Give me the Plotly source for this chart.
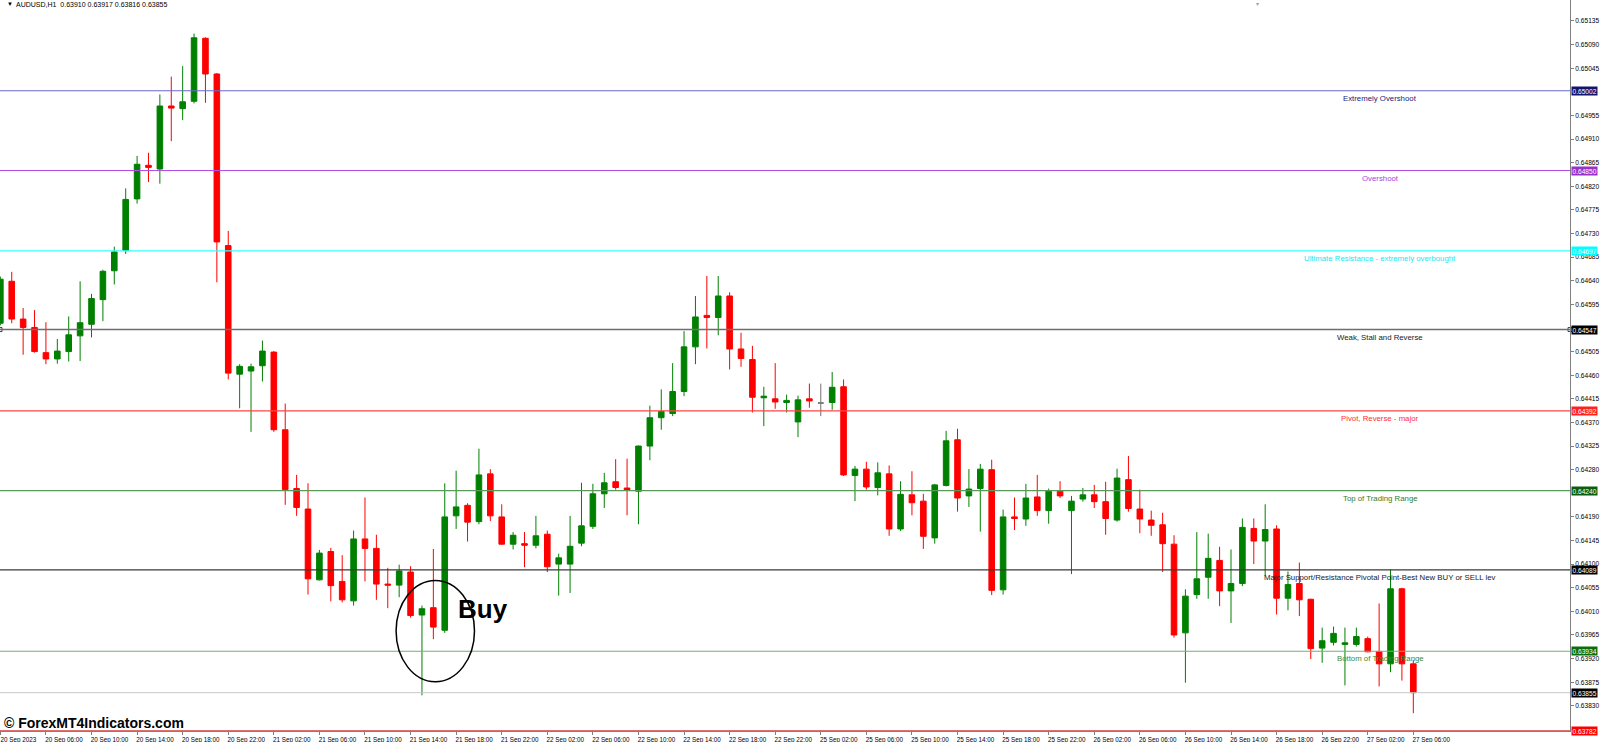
import plotly.graph_objects as go

symbol_info = "AUDUSD,H1\u00a0\u00a00.63910 0.63917 0.63816 0.63855"

opens = [0.64559, 0.64639, 0.64567, 0.64551, 0.64503, 0.64491, 0.64505, 0.64535, 0.64557, 0.64604,
         0.64659, 0.64698, 0.64796, 0.64860, 0.64853, 0.64973, 0.64968, 0.64982, 0.65102, 0.65034,
         0.64707, 0.64462, 0.64468, 0.64478, 0.64504, 0.64356, 0.64244, 0.64205, 0.64070, 0.64124,
         0.64067, 0.64030, 0.64148, 0.64130, 0.64062, 0.64060, 0.64085, 0.64003, 0.64017, 0.63974,
         0.64192, 0.64212, 0.64181, 0.64272, 0.64190, 0.64138, 0.64139, 0.64136, 0.64157, 0.64100,
         0.64100, 0.64140, 0.64172, 0.64234, 0.64257, 0.64245, 0.64239, 0.64325, 0.64379, 0.64387,
         0.64429, 0.64514, 0.64574, 0.64570, 0.64611, 0.64510, 0.64490, 0.64417, 0.64415, 0.64408,
         0.64371, 0.64415, 0.64407, 0.64408, 0.64438, 0.64269, 0.64281, 0.64246, 0.64272, 0.64167,
         0.64232, 0.64220, 0.64150, 0.64250, 0.64337, 0.64230, 0.64244, 0.64280, 0.64051, 0.64190,
         0.64186, 0.64228, 0.64202, 0.64239, 0.64202, 0.64224, 0.64232, 0.64219, 0.64184, 0.64261,
         0.64205, 0.64184, 0.64175, 0.64138, 0.63969, 0.64042, 0.64075, 0.64107, 0.64049, 0.64063,
         0.64168, 0.64144, 0.64167, 0.64035, 0.64063, 0.64033, 0.63940, 0.63951, 0.63947, 0.63947,
         0.63958, 0.63933, 0.63910, 0.64053, 0.63910]
highs = [0.64648, 0.64657, 0.64588, 0.64584, 0.64561, 0.64529, 0.64572, 0.64639, 0.64615, 0.64661,
         0.64705, 0.64816, 0.64878, 0.64884, 0.64995, 0.65029, 0.65049, 0.65111, 0.65104, 0.65036,
         0.64735, 0.64481, 0.64482, 0.64526, 0.64506, 0.64406, 0.64270, 0.64254, 0.64127, 0.64131,
         0.64117, 0.64164, 0.64227, 0.64156, 0.64093, 0.64099, 0.64096, 0.64021, 0.64129, 0.64254,
         0.64278, 0.64216, 0.64320, 0.64281, 0.64214, 0.64161, 0.64161, 0.64192, 0.64164, 0.64120,
         0.64192, 0.64255, 0.64253, 0.64274, 0.64300, 0.64301, 0.64326, 0.64402, 0.64433, 0.64483,
         0.64544, 0.64611, 0.64649, 0.64649, 0.64618, 0.64541, 0.64516, 0.64438, 0.64483, 0.64423,
         0.64421, 0.64444, 0.64444, 0.64466, 0.64452, 0.64287, 0.64295, 0.64294, 0.64288, 0.64258,
         0.64277, 0.64234, 0.64253, 0.64354, 0.64358, 0.64281, 0.64291, 0.64299, 0.64204, 0.64227,
         0.64253, 0.64270, 0.64244, 0.64258, 0.64230, 0.64245, 0.64251, 0.64257, 0.64282, 0.64306,
         0.64242, 0.64202, 0.64198, 0.64155, 0.64052, 0.64161, 0.64158, 0.64133, 0.64128, 0.64187,
         0.64187, 0.64214, 0.64174, 0.64086, 0.64103, 0.64034, 0.63979, 0.63981, 0.63979, 0.63979,
         0.63962, 0.64025, 0.64090, 0.64055, 0.63917]
lows = [0.64555, 0.64559, 0.64499, 0.64503, 0.64481, 0.64482, 0.64486, 0.64487, 0.64532, 0.64563,
        0.64633, 0.64691, 0.64787, 0.64828, 0.64825, 0.64906, 0.64946, 0.64978, 0.64979, 0.64637,
        0.64452, 0.64397, 0.64352, 0.64448, 0.64352, 0.64213, 0.64192, 0.64042, 0.64069, 0.64029,
        0.64027, 0.64021, 0.64067, 0.64032, 0.64016, 0.64037, 0.63998, 0.63850, 0.63957, 0.63969,
        0.64167, 0.64143, 0.64176, 0.64182, 0.64137, 0.64128, 0.64094, 0.64130, 0.64085, 0.64040,
        0.64045, 0.64134, 0.64167, 0.64207, 0.64242, 0.64193, 0.64176, 0.64298, 0.64356, 0.64382,
        0.64420, 0.64481, 0.64511, 0.64536, 0.64471, 0.64476, 0.64389, 0.64363, 0.64396, 0.64389,
        0.64342, 0.64398, 0.64382, 0.64394, 0.64268, 0.64220, 0.64242, 0.64231, 0.64154, 0.64163,
        0.64193, 0.64129, 0.64139, 0.64248, 0.64200, 0.64209, 0.64162, 0.64041, 0.64042, 0.64165,
        0.64173, 0.64192, 0.64177, 0.64226, 0.64081, 0.64219, 0.64207, 0.64156, 0.64181, 0.64200,
        0.64159, 0.64154, 0.64085, 0.63960, 0.63874, 0.64034, 0.64034, 0.64020, 0.63988, 0.64058,
        0.64100, 0.64077, 0.64004, 0.64012, 0.64001, 0.63919, 0.63912, 0.63945, 0.63869, 0.63943,
        0.63932, 0.63867, 0.63894, 0.63878, 0.63816]
closes = [0.64643, 0.64567, 0.64551, 0.64505, 0.64491, 0.64506, 0.64537, 0.64560, 0.64606, 0.64658,
          0.64695, 0.64795, 0.64862, 0.64856, 0.64973, 0.64969, 0.64981, 0.65103, 0.65034, 0.64714,
          0.64464, 0.64477, 0.64476, 0.64506, 0.64356, 0.64242, 0.64208, 0.64072, 0.64121, 0.64059,
          0.64032, 0.64148, 0.64130, 0.64062, 0.64060, 0.64087, 0.64002, 0.64015, 0.63980, 0.64190,
          0.64209, 0.64180, 0.64270, 0.64192, 0.64138, 0.64155, 0.64136, 0.64154, 0.64095, 0.64112,
          0.64134, 0.64173, 0.64234, 0.64255, 0.64246, 0.64241, 0.64325, 0.64379, 0.64391, 0.64429,
          0.64514, 0.64571, 0.64570, 0.64611, 0.64510, 0.64492, 0.64418, 0.64420, 0.64409, 0.64412,
          0.64413, 0.64411, 0.64407, 0.64437, 0.64270, 0.64281, 0.64247, 0.64274, 0.64167, 0.64233,
          0.64217, 0.64153, 0.64251, 0.64335, 0.64226, 0.64243, 0.64281, 0.64050, 0.64190, 0.64187,
          0.64226, 0.64202, 0.64239, 0.64230, 0.64220, 0.64232, 0.64219, 0.64187, 0.64264, 0.64206,
          0.64186, 0.64174, 0.64139, 0.63965, 0.64039, 0.64072, 0.64111, 0.64049, 0.64063, 0.64170,
          0.64144, 0.64166, 0.64035, 0.64061, 0.64032, 0.63939, 0.63954, 0.63968, 0.63950, 0.63962,
          0.63933, 0.63910, 0.64053, 0.63910, 0.63855]

# bar with open == close, drawn grey in the terminal
doji_bar = 72

time_labels = ["20 Sep 2023", "20 Sep 06:00", "20 Sep 10:00", "20 Sep 14:00", "20 Sep 18:00", "20 Sep 22:00",
               "21 Sep 02:00", "21 Sep 06:00", "21 Sep 10:00", "21 Sep 14:00", "21 Sep 18:00", "21 Sep 22:00",
               "22 Sep 02:00", "22 Sep 06:00", "22 Sep 10:00", "22 Sep 14:00", "22 Sep 18:00", "22 Sep 22:00",
               "25 Sep 02:00", "25 Sep 06:00", "25 Sep 10:00", "25 Sep 14:00", "25 Sep 18:00", "25 Sep 22:00",
               "26 Sep 02:00", "26 Sep 06:00", "26 Sep 10:00", "26 Sep 14:00", "26 Sep 18:00", "26 Sep 22:00",
               "27 Sep 02:00", "27 Sep 06:00"]
bars_per_label = 4

price_ticks = [0.65135, 0.65090, 0.65045, 0.64955, 0.64910, 0.64865, 0.64820, 0.64775,
               0.64730, 0.64685, 0.64640, 0.64595, 0.64505, 0.64460, 0.64415, 0.64370, 0.64325,
               0.64280, 0.64190, 0.64145, 0.64100, 0.64055, 0.64010, 0.63965, 0.63920, 0.63875, 0.63830]
top_tick = 0.65180

level_prices = [0.65002, 0.64850, 0.64697, 0.64547, 0.64392, 0.64240, 0.64089, 0.63934]
level_names = ["Extremely Overshoot", "Overshoot", "Ultimate Resistance - extremely overbought",
               "Weak, Stall and Reverse", "Pivot, Reverse - major", "Top of Trading Range",
               "Major Support/Resistance Pivotal Point-Best New BUY or SELL lev", "Bottom of Trading Range"]
selected_level = 0.64547
current_price = 0.63855
bottom_price = 0.63782
top_price = 0.65175

level_line_colors = ["#6a6acd", "#b44ee6", "#33ffff", "#6e6e6e", "#ff4444", "#5a9a5a", "#3a3a3a", "#72b072"]
level_text_colors = ["#22227a", "#a844e0", "#22e6ee", "#1a1a1a", "#ff3030", "#2f7d2f", "#1a1a1a", "#3a8a3a"]
level_box_colors = ["#14146e", "#9932cc", "#00ffff", "#000000", "#ff2020", "#0b5e0b", "#000000", "#0b6e0b"]

x_range = [-0.03, 137.75]
label_font = dict(size=6.6, color="white", family="Liberation Sans")

idx = list(range(len(opens)))
main = [i for i in idx if i != doji_bar]

fig = go.Figure()
fig.add_trace(go.Candlestick(
    x=main,
    open=[opens[i] for i in main], high=[highs[i] for i in main],
    low=[lows[i] for i in main], close=[closes[i] for i in main],
    increasing=dict(line=dict(color="#008000", width=1), fillcolor="#008000"),
    decreasing=dict(line=dict(color="#ff0000", width=1), fillcolor="#ff0000"),
    hoverinfo="skip", showlegend=False))
fig.add_trace(go.Candlestick(
    x=[doji_bar], open=[opens[doji_bar]], high=[highs[doji_bar]],
    low=[lows[doji_bar]], close=[closes[doji_bar]],
    increasing=dict(line=dict(color="#707070", width=1), fillcolor="#707070"),
    decreasing=dict(line=dict(color="#707070", width=1), fillcolor="#707070"),
    hoverinfo="skip", showlegend=False))

# horizontal levels with their descriptions and price boxes
for p, name, lc, tc, bc in zip(level_prices, level_names, level_line_colors, level_text_colors, level_box_colors):
    fig.add_hline(y=p, line=dict(color=lc, width=1.5 if p == selected_level else 1.1))
    fig.add_annotation(x=0.879, xref="paper", y=p, yref="y", text=name, showarrow=False,
                       xanchor="center", yanchor="top", yshift=-1,
                       font=dict(size=7.8, color=tc, family="Liberation Sans"))
    fig.add_annotation(x=1, xref="paper", y=p, yref="y", text=f"{p:.5f}", showarrow=False,
                       xanchor="left", yanchor="middle", xshift=1, bgcolor=bc, borderpad=0.5,
                       font=label_font)

# selection handles on the selected line
fig.add_trace(go.Scatter(x=x_range, y=[selected_level, selected_level], mode="markers",
                         marker=dict(symbol="square-open", size=4, color="#404040", line=dict(width=1)),
                         cliponaxis=False, hoverinfo="skip", showlegend=False))

fig.add_hline(y=current_price, line=dict(color="#c8c8c8", width=1))
fig.add_annotation(x=1, xref="paper", y=current_price, yref="y", text=f"{current_price:.5f}",
                   showarrow=False, xanchor="left", yanchor="middle", xshift=1, bgcolor="#000000",
                   borderpad=0.5, font=label_font)
fig.add_hline(y=bottom_price, line=dict(color="#e07070", width=2))
fig.add_annotation(x=1, xref="paper", y=bottom_price, yref="y", text=f"{bottom_price:.5f}",
                   showarrow=False, xanchor="left", yanchor="middle", xshift=1, bgcolor="#ff0000",
                   borderpad=0.5, font=label_font)
# partly hidden top tick label
fig.add_annotation(x=1, xref="paper", y=top_tick, yref="y", text=f"{top_tick:.5f}", showarrow=False,
                   xanchor="left", yanchor="middle", xshift=3,
                   font=dict(size=6.6, color="black", family="Liberation Sans"))

# header
fig.add_annotation(x=0.003, xref="paper", y=1, yref="paper", text="▼", showarrow=False,
                   xanchor="left", yanchor="top", yshift=1, font=dict(size=6, color="black"))
fig.add_annotation(x=0.0088, xref="paper", y=1, yref="paper", text=symbol_info, showarrow=False,
                   xanchor="left", yanchor="top", yshift=1,
                   font=dict(size=7, color="black", family="Liberation Sans"))
fig.add_annotation(x=0.801, xref="paper", y=1, yref="paper", text="▾", showarrow=False,
                   xanchor="center", yanchor="top", yshift=1, font=dict(size=6, color="#a0a0a0"))

# buy mark
buy_x, buy_y = 40.0, 0.64015
fig.add_annotation(x=buy_x, y=buy_y, text="<b>Buy</b>", showarrow=False, xanchor="left",
                   yanchor="middle", font=dict(size=26, color="black", family="Liberation Sans"))
fig.add_shape(type="circle", xref="x", yref="y", x0=34.73, x1=41.61, y0=0.63876, y1=0.64069,
              line=dict(color="black", width=1.5))

fig.add_annotation(x=0.001, xref="paper", y=0.0105, yref="paper", text="<b>© ForexMT4Indicators.com</b>",
                   showarrow=False, xanchor="left", yanchor="middle",
                   font=dict(size=14, color="black", family="Liberation Sans"))

fig.update_layout(
    width=1600, height=742,
    margin=dict(l=0, r=30, t=0, b=11),
    paper_bgcolor="white", plot_bgcolor="white",
    font=dict(family="Liberation Sans", color="black"),
    showlegend=False,
    xaxis=dict(range=x_range, tickvals=[k * bars_per_label for k in range(len(time_labels))],
               ticktext=time_labels, ticks="outside", ticklen=3, tickcolor="#808080",
               tickfont=dict(size=6.3), ticklabelshift=18, ticklabelstandoff=-1,
               showgrid=False, zeroline=False,
               showline=True, linecolor="#808080", linewidth=1, rangeslider=dict(visible=False),
               automargin=False, fixedrange=True),
    yaxis=dict(side="right", range=[bottom_price, top_price], tickvals=price_ticks,
               ticktext=[f"{v:.5f}" for v in price_ticks], ticks="outside", ticklen=3,
               tickcolor="#808080", tickfont=dict(size=6.6), showgrid=False, zeroline=False,
               showline=True, linecolor="#808080", linewidth=1, automargin=False, fixedrange=True),
)

fig.write_html("out.html", config={"displayModeBar": False},
               post_script="document.body.style.margin='0';document.body.style.overflow='hidden';")
